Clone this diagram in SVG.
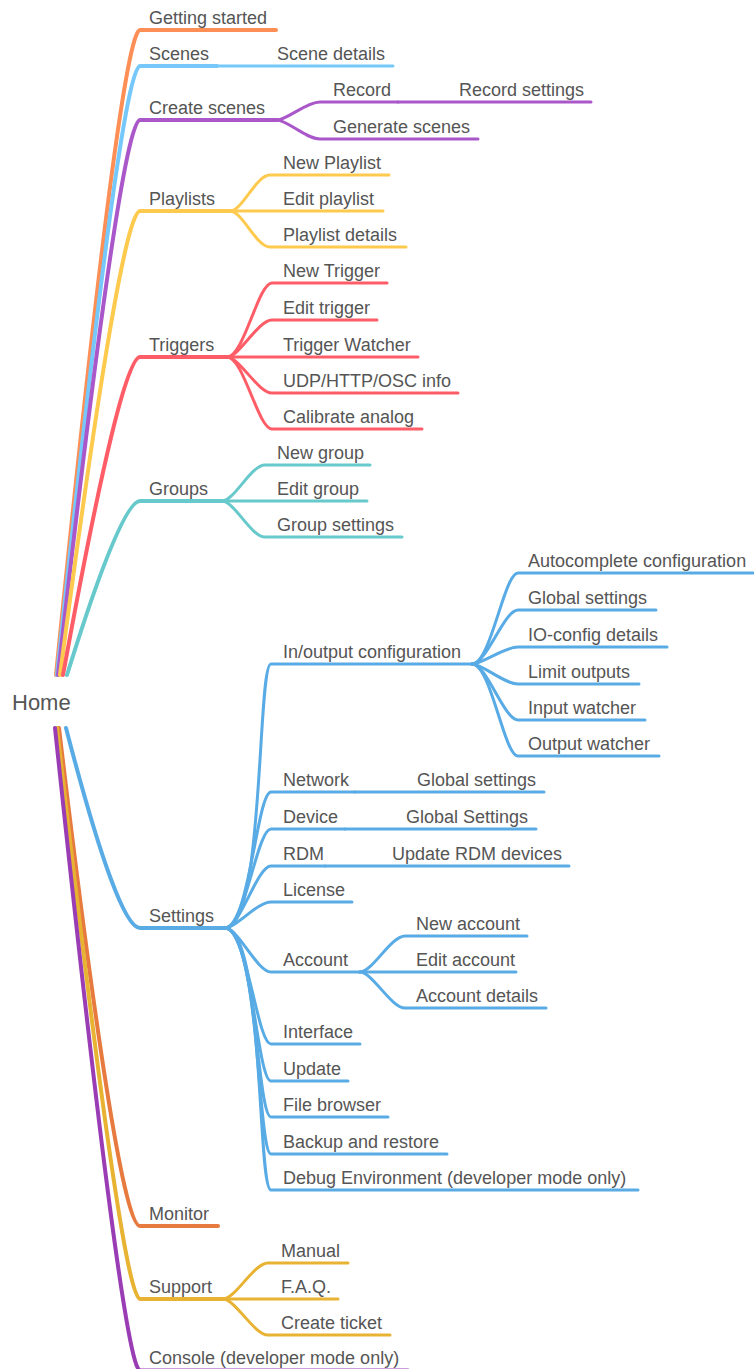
<svg xmlns="http://www.w3.org/2000/svg" width="754" height="1369" viewBox="0 0 754 1369">
<style>
text{font-family:"Liberation Sans",Arial,Helvetica,sans-serif;font-size:18px;fill:#555}
.root{font-size:22px}
path{fill:none;stroke-linecap:round;stroke-linejoin:round}
.m{stroke-width:4}
.s{stroke-width:3}
.c1{stroke:#fd8e55}.c2{stroke:#76c7fa}.c3{stroke:#a957c9}.c4{stroke:#fdca4e}.c5{stroke:#fe5d67}
.c6{stroke:#67c9cb}.c7{stroke:#58abe4}.c8{stroke:#e77a3f}.c9{stroke:#e8b232}.c10{stroke:#9a3db5}
</style>
<rect width="754" height="1369" fill="#fff"/>
<g id="connectors">
<path class="m c1" d="M56 675 Q121 30 140 30 H276"/>
<path class="m c2" d="M57 675 Q121 66 140 66 H217"/>
<path class="s c2" d="M217 66 H393"/>
<path class="m c3" d="M58 675 Q121 120 140 120 H277"/>
<path class="s c3" d="M277 120 C287 120 306 102 320 102 H398"/>
<path class="s c3" d="M398 102 H591"/>
<path class="s c3" d="M277 120 C287 120 306 139 320 139 H478"/>
<path class="m c4" d="M60 675 Q121 211 140 211 H230"/>
<path class="s c4" d="M230 211 C242.3 211 256 175 270 175 H389"/>
<path class="s c4" d="M230 211 H383"/>
<path class="s c4" d="M230 211 C242.3 211 256 247 270 247 H406"/>
<path class="m c5" d="M63 675 Q121 357 140 357 H227"/>
<path class="s c5" d="M227 357 C244 357 258 283 272 283 H387"/>
<path class="s c5" d="M227 357 C239.4 357 258 320 272 320 H377"/>
<path class="s c5" d="M227 357 H418"/>
<path class="s c5" d="M227 357 C239.3 357 258 393 272 393 H458"/>
<path class="s c5" d="M227 357 C243.6 357 258 429 272 429 H422"/>
<path class="m c6" d="M67 675 Q121 501 140 501 H222"/>
<path class="s c6" d="M222 501 C234.3 501 251 465 265 465 H370"/>
<path class="s c6" d="M222 501 H367"/>
<path class="s c6" d="M222 501 C234.3 501 251 537 265 537 H402"/>
<path class="m c7" d="M66 728 Q118 928 140 928 H225"/>
<path class="s c7" d="M225 928 C264.7 928 257 664 271 664 H472"/>
<path class="s c7" d="M472 664 C490.9 664 504 573 518 573 H753"/>
<path class="s c7" d="M472 664 C486.5 664 504 610 518 610 H656"/>
<path class="s c7" d="M472 664 C482 664 504 647 518 647 H667"/>
<path class="s c7" d="M472 664 C482.4 664 504 684 518 684 H639"/>
<path class="s c7" d="M472 664 C486.7 664 504 720 518 720 H645"/>
<path class="s c7" d="M472 664 C491 664 504 756 518 756 H659"/>
<path class="s c7" d="M225 928 C249.3 928 257 792 271 792 H355"/>
<path class="s c7" d="M355 792 H544"/>
<path class="s c7" d="M225 928 C244.9 928 257 829 271 829 H345"/>
<path class="s c7" d="M345 829 H536"/>
<path class="s c7" d="M225 928 C240.4 928 257 866 271 866 H325"/>
<path class="s c7" d="M325 866 H569"/>
<path class="s c7" d="M225 928 C236.1 928 257 902 271 902 H352"/>
<path class="s c7" d="M225 928 C238.3 928 257 972 271 972 H360"/>
<path class="s c7" d="M360 972 C372.3 972 391 936 405 936 H527"/>
<path class="s c7" d="M360 972 H516"/>
<path class="s c7" d="M360 972 C372.3 972 391 1008 405 1008 H546"/>
<path class="s c7" d="M225 928 C246.9 928 257 1044 271 1044 H360"/>
<path class="s c7" d="M225 928 C251.4 928 257 1081 271 1081 H348"/>
<path class="s c7" d="M225 928 C255.7 928 257 1117 271 1117 H388"/>
<path class="s c7" d="M225 928 C260.1 928 257 1154 271 1154 H447"/>
<path class="s c7" d="M225 928 C264.4 928 257 1190 271 1190 H638"/>
<path class="m c8" d="M59 728 Q118 1226 140 1226 H218"/>
<path class="m c9" d="M57 728 Q122 1299 140 1299 H223"/>
<path class="s c9" d="M223 1299 C235.3 1299 254 1263 268 1263 H348"/>
<path class="s c9" d="M223 1299 H338"/>
<path class="s c9" d="M223 1299 C235.3 1299 254 1335 268 1335 H390"/>
<path class="m c10" d="M55 728 Q123 1370.5 140 1370.5 H408"/>
</g>
<g id="home"><text class="root" x="12" y="710">Home</text></g>
<g id="getting-started"><text x="149" y="24">Getting started</text></g>
<g id="scenes"><text x="149" y="60">Scenes</text></g>
<g id="scene-details"><text x="277" y="60">Scene details</text></g>
<g id="create-scenes"><text x="149" y="114">Create scenes</text></g>
<g id="record"><text x="333" y="96">Record</text></g>
<g id="record-settings"><text x="459" y="96">Record settings</text></g>
<g id="generate-scenes"><text x="333" y="133">Generate scenes</text></g>
<g id="playlists"><text x="149" y="205">Playlists</text></g>
<g id="new-playlist"><text x="283" y="169">New Playlist</text></g>
<g id="edit-playlist"><text x="283" y="205">Edit playlist</text></g>
<g id="playlist-details"><text x="283" y="241">Playlist details</text></g>
<g id="triggers"><text x="149" y="351">Triggers</text></g>
<g id="new-trigger"><text x="283" y="277">New Trigger</text></g>
<g id="edit-trigger"><text x="283" y="314">Edit trigger</text></g>
<g id="trigger-watcher"><text x="283" y="351">Trigger Watcher</text></g>
<g id="udp-info"><text x="283" y="387">UDP/HTTP/OSC info</text></g>
<g id="calibrate-analog"><text x="283" y="423">Calibrate analog</text></g>
<g id="groups"><text x="149" y="495">Groups</text></g>
<g id="new-group"><text x="277" y="459">New group</text></g>
<g id="edit-group"><text x="277" y="495">Edit group</text></g>
<g id="group-settings"><text x="277" y="531">Group settings</text></g>
<g id="settings"><text x="149" y="922">Settings</text></g>
<g id="io-config"><text x="283" y="658">In/output configuration</text></g>
<g id="autocomplete"><text x="528" y="567">Autocomplete configuration</text></g>
<g id="io-global-settings"><text x="528" y="604">Global settings</text></g>
<g id="io-config-details"><text x="528" y="641">IO-config details</text></g>
<g id="limit-outputs"><text x="528" y="678">Limit outputs</text></g>
<g id="input-watcher"><text x="528" y="714">Input watcher</text></g>
<g id="output-watcher"><text x="528" y="750">Output watcher</text></g>
<g id="network"><text x="283" y="786">Network</text></g>
<g id="network-global-settings"><text x="417" y="786">Global settings</text></g>
<g id="device"><text x="283" y="823">Device</text></g>
<g id="device-global-settings"><text x="406" y="823">Global Settings</text></g>
<g id="rdm"><text x="283" y="860">RDM</text></g>
<g id="update-rdm"><text x="392" y="860">Update RDM devices</text></g>
<g id="license"><text x="283" y="896">License</text></g>
<g id="account"><text x="283" y="966">Account</text></g>
<g id="new-account"><text x="416" y="930">New account</text></g>
<g id="edit-account"><text x="416" y="966">Edit account</text></g>
<g id="account-details"><text x="416" y="1002">Account details</text></g>
<g id="interface"><text x="283" y="1038">Interface</text></g>
<g id="update"><text x="283" y="1075">Update</text></g>
<g id="file-browser"><text x="283" y="1111">File browser</text></g>
<g id="backup"><text x="283" y="1148">Backup and restore</text></g>
<g id="debug-env"><text x="283" y="1184">Debug Environment (developer mode only)</text></g>
<g id="monitor"><text x="149" y="1220">Monitor</text></g>
<g id="support"><text x="149" y="1293">Support</text></g>
<g id="manual"><text x="281" y="1257">Manual</text></g>
<g id="faq"><text x="281" y="1293">F.A.Q.</text></g>
<g id="create-ticket"><text x="281" y="1329">Create ticket</text></g>
<g id="console"><text x="149" y="1364">Console (developer mode only)</text></g>
</svg>
